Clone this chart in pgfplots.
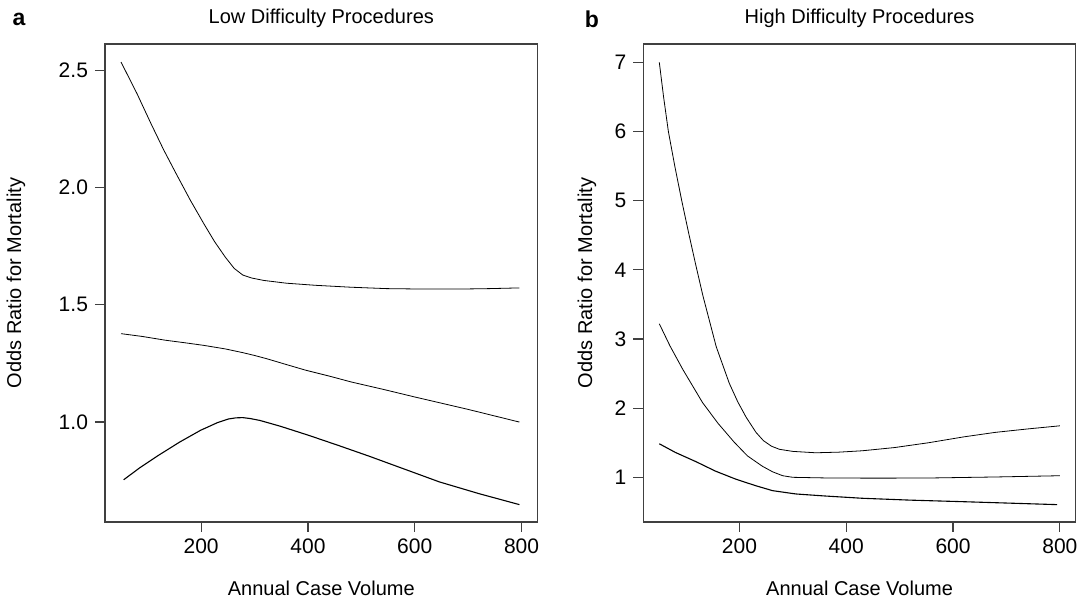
\documentclass[border=0pt]{standalone}
\usepackage{pgfplots}
\pgfplotsset{compat=1.18}
\usepackage{fontspec}
\setmainfont{Liberation Sans}

\pgfplotsset{
  rpanel/.style={
    scale only axis,
    height=239pt,
    width=216.3pt,
    xmin=20, xmax=830,
    xtick={200,400,600,800},
    xtick pos=bottom, ytick pos=left,
    tick align=outside,
    major tick length=5pt,
    clip mode=individual,
    axis line style={black!75, line width=0.6pt},
    every tick/.style={black!75, line width=0.6pt},
    /pgf/number format/assume math mode=true,
    tick label style={font=\fontsize{10.5}{12}\selectfont},
    xlabel={Annual Case Volume},
    ylabel={Odds Ratio for Mortality},
    label style={font=\fontsize{10.5}{12}\selectfont},
    title style={font=\fontsize{10.5}{12}\selectfont},
    every axis x label/.style={at={(axis description cs:0.5,-0.138)}, anchor=center},
    every axis title/.style={at={(axis description cs:0.5,1.054)}, anchor=center},
    cycle list={{black, mark=none, line width=0.55pt, smooth, tension=0.5}},
  }
}

\begin{document}
\begin{tikzpicture}
\useasboundingbox (0,0) rectangle (542pt,301.5pt);

% panel a
\begin{axis}[rpanel,
  at={(52.5pt,40.5pt)}, anchor=south west,
  ymin=0.574, ymax=2.612,
  ytick={1.0,1.5,2.0,2.5},
  yticklabel style={/pgf/number format/.cd, fixed, fixed zerofill, precision=1},
  every axis y label/.style={at={(axis description cs:-0.206,0.5)}, rotate=90, anchor=center},
  title={Low Difficulty Procedures}]
\addplot coordinates {(50,2.535) (80,2.40) (106,2.273) (130,2.16) (153,2.06) (180,1.945) (205,1.846) (225,1.77) (245,1.704) (262,1.655) (278,1.627) (295,1.614) (317,1.604) (360,1.592) (415,1.583) (480,1.575) (547,1.569) (620,1.567) (680,1.567) (740,1.569) (796,1.572)};
\addplot coordinates {(50,1.377) (90,1.365) (133,1.349) (170,1.338) (205,1.327) (245,1.312) (278,1.296) (300,1.284) (323,1.270) (360,1.245) (396,1.221) (440,1.196) (481,1.171) (540,1.14) (600,1.107) (700,1.054) (796,1.0)};
\addplot coordinates {(55,0.754) (85,0.805) (120,0.858) (160,0.915) (199,0.965) (230,0.997) (251,1.013) (265,1.018) (278,1.019) (292,1.015) (310,1.007) (350,0.981) (402,0.943) (460,0.898) (514,0.855) (580,0.80) (646,0.745) (720,0.695) (796,0.648)};
\node[font=\fontsize{11.5}{13}\selectfont\bfseries] at (axis description cs:-0.199,1.052) {a};
\end{axis}

% panel b
\begin{axis}[rpanel,
  at={(321.65pt,40.5pt)}, anchor=south west,
  ymin=0.354, ymax=7.267,
  ytick={1,2,3,4,5,6,7},
  every axis y label/.style={at={(axis description cs:-0.130,0.5)}, rotate=90, anchor=center},
  title={High Difficulty Procedures}]
\addplot coordinates {(50,7.0) (58,6.5) (67,6.0) (79,5.5) (92,5.0) (105,4.53) (118,4.08) (131.5,3.63) (156.5,2.89) (181,2.36) (197,2.09) (212.5,1.87) (231,1.65) (245,1.53) (260,1.45) (275,1.405) (300,1.375) (343,1.355) (386,1.364) (430,1.384) (490,1.43) (554,1.50) (620,1.585) (679,1.65) (740,1.70) (800,1.745)};
\addplot coordinates {(50,3.22) (70,2.90) (94,2.56) (131,2.08) (160,1.78) (190,1.51) (215,1.31) (243,1.16) (262,1.08) (281,1.023) (300,1.0) (368,0.99) (460,0.988) (554,0.99) (680,1.005) (800,1.023)};
\addplot coordinates {(50,1.485) (80,1.36) (119,1.225) (155,1.09) (194,0.971) (230,0.88) (262,0.807) (306,0.759) (360,0.73) (430,0.697) (520,0.67) (617,0.648) (700,0.628) (795,0.605)};
\node[font=\fontsize{11.5}{13}\selectfont\bfseries] at (axis description cs:-0.119,1.052) {b};
\end{axis}
\end{tikzpicture}
\end{document}
